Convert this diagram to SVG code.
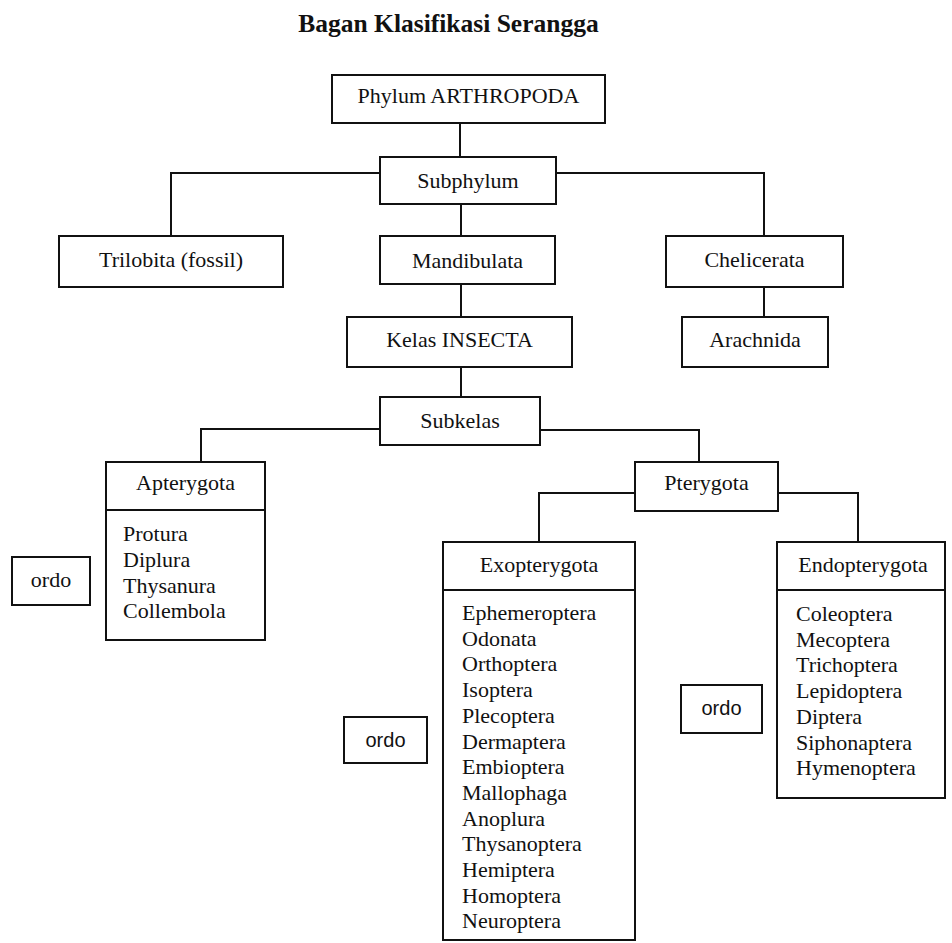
<svg xmlns="http://www.w3.org/2000/svg" width="952" height="943" viewBox="0 0 952 943">
<style>
.box{fill:#fff;stroke:#111;stroke-width:2}
.ln{fill:none;stroke:#111;stroke-width:2}
text{font-family:"Liberation Serif","Times New Roman",serif;font-size:22px;fill:#111}
.c{text-anchor:middle}
.title{font-size:25.5px;font-weight:bold}
.sans{font-family:"Liberation Sans",Arial,sans-serif;font-size:20px}
</style>
<rect width="952" height="943" fill="#fff"/>
<text class="title c" x="448.5" y="32">Bagan Klasifikasi Serangga</text>
<g id="connectors">
<path class="ln" d="M460 123V157"/>
<path class="ln" d="M461 204V236"/>
<path class="ln" d="M380 173H171V236"/>
<path class="ln" d="M556 173H764V236"/>
<path class="ln" d="M764 287V317"/>
<path class="ln" d="M461 284V317"/>
<path class="ln" d="M461 367V397"/>
<path class="ln" d="M380 429H201V462"/>
<path class="ln" d="M540 430H699V462"/>
<path class="ln" d="M635 493H539V542"/>
<path class="ln" d="M778 493H858V542"/>
</g>
<g id="phylum"><rect class="box" x="332" y="75" width="273" height="48"/><text class="c" x="468.5" y="103">Phylum ARTHROPODA</text></g>
<g id="subphylum"><rect class="box" x="380" y="157" width="176" height="47"/><text class="c" x="468" y="188">Subphylum</text></g>
<g id="trilobita"><rect class="box" x="59" y="236" width="224" height="51"/><text class="c" x="171" y="267">Trilobita (fossil)</text></g>
<g id="mandibulata"><rect class="box" x="380" y="236" width="175" height="48"/><text class="c" x="467.5" y="268">Mandibulata</text></g>
<g id="chelicerata"><rect class="box" x="666" y="236" width="177" height="51"/><text class="c" x="754.5" y="267">Chelicerata</text></g>
<g id="arachnida"><rect class="box" x="682" y="317" width="146" height="50"/><text class="c" x="755" y="347">Arachnida</text></g>
<g id="kelas"><rect class="box" x="347" y="317" width="225" height="50"/><text class="c" x="459.5" y="347">Kelas INSECTA</text></g>
<g id="subkelas"><rect class="box" x="380" y="397" width="160" height="48"/><text class="c" x="460" y="428">Subkelas</text></g>
<g id="apterygota">
<rect class="box" x="106" y="462" width="159" height="178"/>
<path class="ln" d="M106 510H265"/>
<text class="c" x="185.5" y="490">Apterygota</text>
<text x="123" y="541">Protura</text>
<text x="123" y="567">Diplura</text>
<text x="123" y="593">Thysanura</text>
<text x="123" y="618">Collembola</text>
</g>
<g id="ordo-left"><rect class="box" x="12" y="557" width="78" height="48"/><text class="c" x="51" y="587">ordo</text></g>
<g id="pterygota"><rect class="box" x="635" y="462" width="143" height="49"/><text class="c" x="706.5" y="490">Pterygota</text></g>
<g id="exopterygota">
<rect class="box" x="443" y="542" width="192" height="398"/>
<path class="ln" d="M443 590H635"/>
<text class="c" x="539" y="572">Exopterygota</text>
<text x="462" y="620">Ephemeroptera</text>
<text x="462" y="645.7">Odonata</text>
<text x="462" y="671.4">Orthoptera</text>
<text x="462" y="697.1">Isoptera</text>
<text x="462" y="722.8">Plecoptera</text>
<text x="462" y="748.5">Dermaptera</text>
<text x="462" y="774.2">Embioptera</text>
<text x="462" y="799.9">Mallophaga</text>
<text x="462" y="825.6">Anoplura</text>
<text x="462" y="851.3">Thysanoptera</text>
<text x="462" y="877">Hemiptera</text>
<text x="462" y="902.7">Homoptera</text>
<text x="462" y="928.4">Neuroptera</text>
</g>
<g id="ordo-middle"><rect class="box" x="344" y="717" width="83" height="46"/><text class="c sans" x="385.5" y="747">ordo</text></g>
<g id="endopterygota">
<rect class="box" x="777" y="542" width="168" height="256"/>
<path class="ln" d="M777 590H945"/>
<text class="c" x="863" y="572">Endopterygota</text>
<text x="796" y="621">Coleoptera</text>
<text x="796" y="646.7">Mecoptera</text>
<text x="796" y="672.4">Trichoptera</text>
<text x="796" y="698.1">Lepidoptera</text>
<text x="796" y="723.8">Diptera</text>
<text x="796" y="749.5">Siphonaptera</text>
<text x="796" y="775.2">Hymenoptera</text>
</g>
<g id="ordo-right"><rect class="box" x="681" y="685" width="81" height="48"/><text class="c sans" x="721.5" y="715">ordo</text></g>
</svg>
